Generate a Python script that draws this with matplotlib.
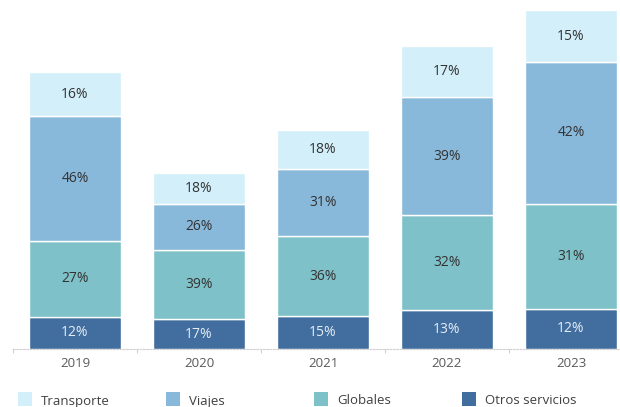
import numpy as np
import matplotlib
matplotlib.use('Agg')
import matplotlib.pyplot as plt
from matplotlib.patches import Rectangle

plt.rcParams['font.family'] = ['Open Sans', 'DejaVu Sans']

years = ['2019', '2020', '2021', '2022', '2023']
series = ['Otros servicios', 'Globales', 'Viajes', 'Transporte']

# segment sizes (arbitrary units), bottom to top
otros = [32, 30, 33, 39, 40]
globales = [76, 69, 80, 95, 105]
viajes = [125, 46, 67, 118, 142]
transporte = [44, 31, 39, 51, 52]

# shares printed on the segments
pct_otros = [12, 17, 15, 13, 12]
pct_globales = [27, 39, 36, 32, 31]
pct_viajes = [46, 26, 31, 39, 42]
pct_transporte = [16, 18, 18, 17, 15]

colors = {
    'Transporte': '#d3eff9',
    'Viajes': '#88b8da',
    'Globales': '#7fc1c8',
    'Otros servicios': '#416e9e',
}

W, H = 620, 407
fig = plt.figure(figsize=(W / 100, H / 100), dpi=100)
ax = fig.add_axes([13 / W, (H - 349) / H, (W - 13) / W, 349 / H])

x = np.arange(len(years))
stack = [
    ('Otros servicios', otros, pct_otros, '#e6edf5'),
    ('Globales', globales, pct_globales, '#333333'),
    ('Viajes', viajes, pct_viajes, '#333333'),
    ('Transporte', transporte, pct_transporte, '#333333'),
]

bottom = np.zeros(len(years))
for name, vals, pcts, tcol in stack:
    vals = np.array(vals, dtype=float)
    ax.bar(x, vals, width=0.735, bottom=bottom, color=colors[name],
           edgecolor='white', linewidth=1.0)
    for xi, b, v, p in zip(x, bottom, vals, pcts):
        ax.text(xi, b + v / 2, f'{p}%', ha='center', va='center',
                fontsize=10, color=tcol)
    bottom += vals

ax.set_xticks(x)
ax.set_xticklabels(years)
ax.set_xticks(np.arange(-0.5, len(years) - 0.5, 1.0), minor=True)
# limits after the ticks, otherwise set_xticks widens the view
ax.set_xlim(-0.5, (W - 13) / 124 - 0.5)
ax.set_ylim(0, 349)
ax.tick_params(axis='x', which='major', length=0, pad=6, labelsize=9.5,
               labelcolor='#595959')
ax.tick_params(axis='x', which='minor', length=3, color='#d0d0d0', width=0.8)
ax.set_yticks([])
for s in ['top', 'right', 'left']:
    ax.spines[s].set_visible(False)
ax.spines['bottom'].set_color('#d0d0d0')
ax.spines['bottom'].set_linestyle((0, (1.5, 1.5)))
ax.spines['bottom'].set_linewidth(0.8)

# legend along the bottom edge
legend_order = ['Transporte', 'Viajes', 'Globales', 'Otros servicios']
for i, name in enumerate(legend_order):
    x0 = 18 + 148 * i
    fig.patches.append(Rectangle((x0 / W, (H - 406) / H), 14 / W, 14 / H,
                                 transform=fig.transFigure,
                                 facecolor=colors[name], edgecolor='none'))
    fig.text((x0 + 23) / W, (H - 401) / H, name, ha='left', va='center',
             fontsize=9.5, color='#404040')

fig.savefig('out.png', dpi=100)
